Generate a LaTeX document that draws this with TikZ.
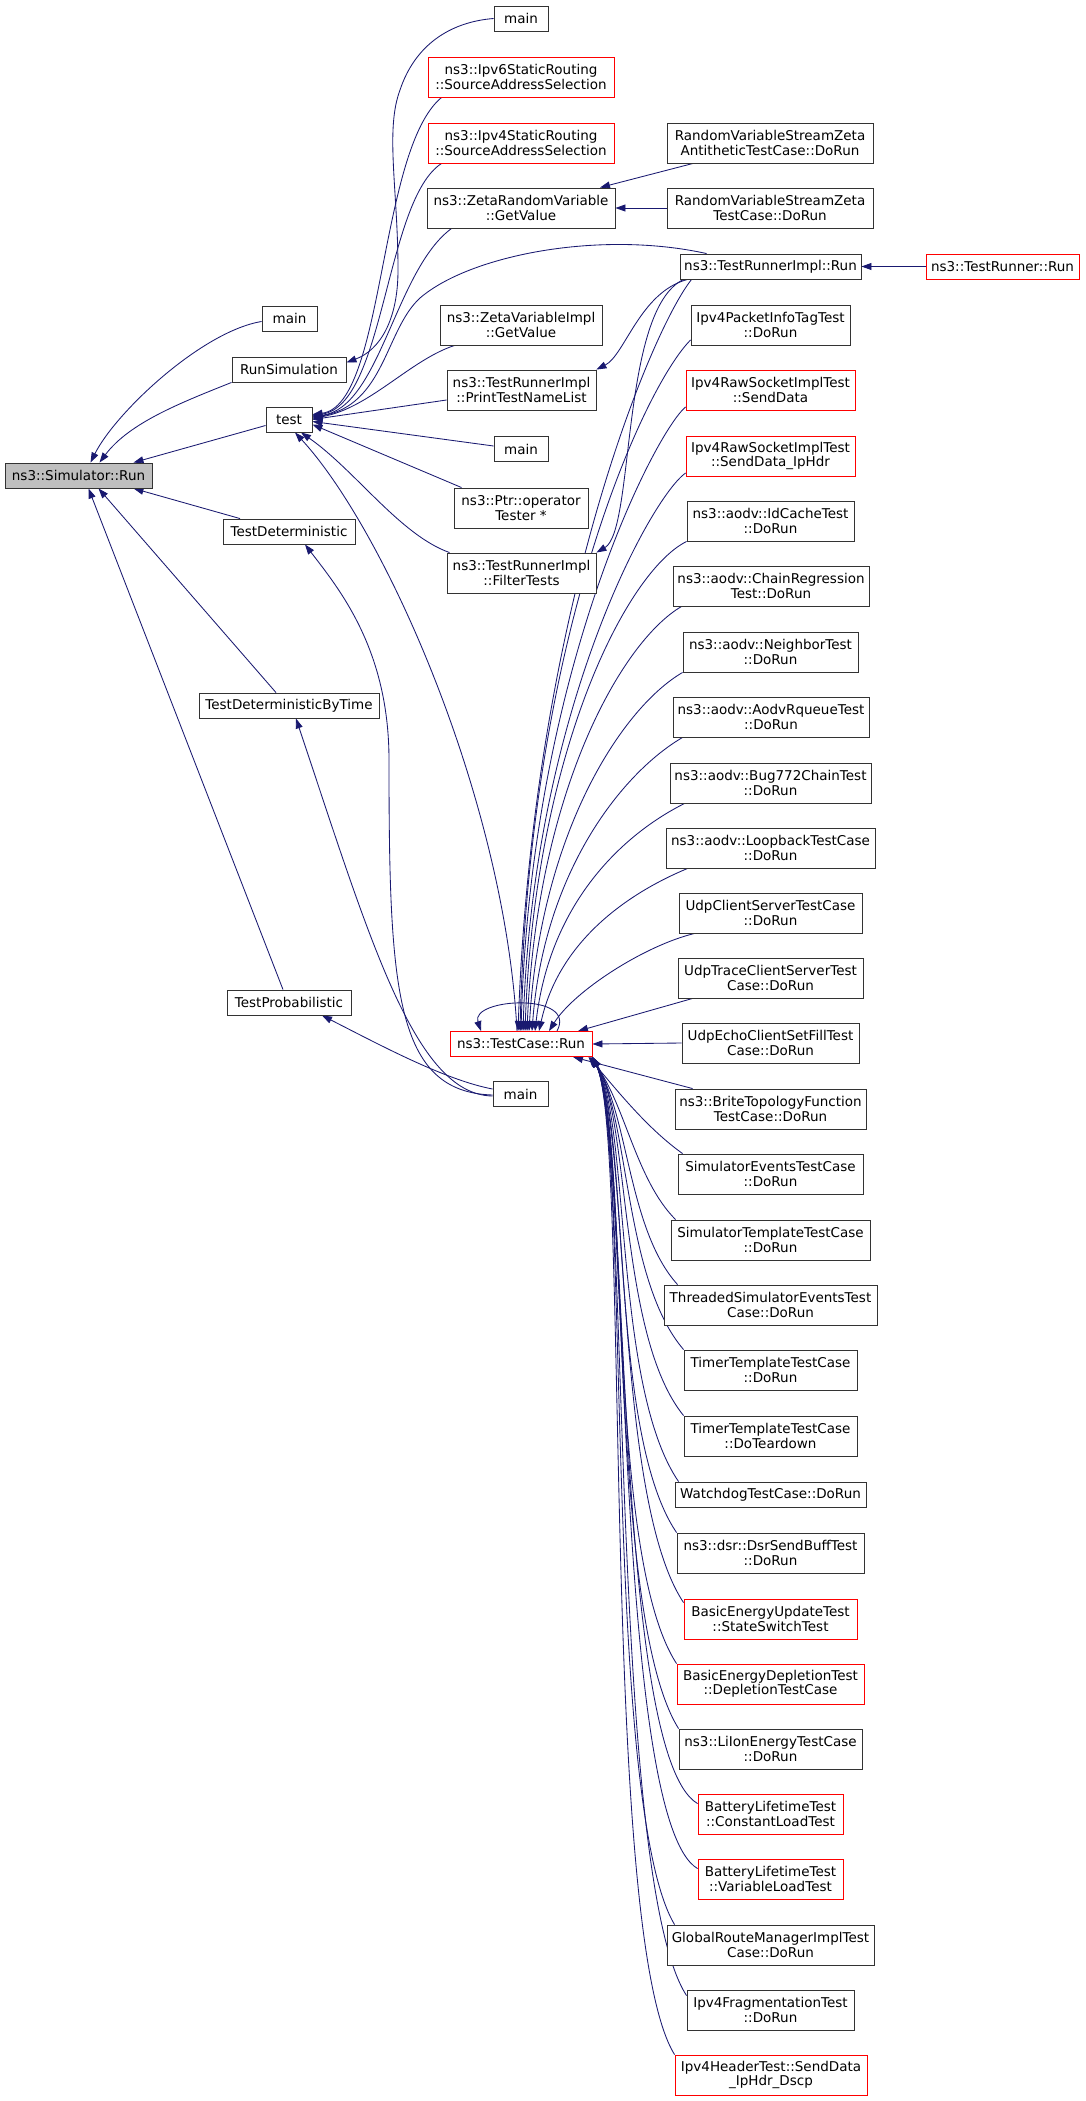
\documentclass[tikz,border=0pt]{standalone}
\usepackage{fontspec}
\newfontfamily\dxfont{DejaVu Sans}
\usetikzlibrary{arrows.meta}

\definecolor{edgeblue}{HTML}{191970}
\definecolor{rootgray}{HTML}{BFBFBF}
\definecolor{boxgray}{HTML}{333333}

\pgfdeclarelayer{bg}
\pgfsetlayers{bg,main}

\tikzset{
  fn/.style={draw=boxgray, line width=0.9pt, fill=white, inner sep=0pt, align=center,
    font=\dxfont\fontsize{13.5}{14.5}\selectfont, minimum height=25pt},
  two/.style={fn, minimum height=40pt},
  trunc/.style={draw=red},
  root/.style={fill=rootgray},
  call/.style={draw=edgeblue, line width=0.85pt, >={Triangle[length=10pt,width=7pt]}, <-},
}

\begin{document}
\begin{tikzpicture}[x=1pt,y=-1pt]
\useasboundingbox (0,0) rectangle (1085,2101);

% left part
\node[fn, root, minimum width=147pt] (sim) at (78.5,475.5) {ns3::Simulator::Run};
\node[fn, minimum width=55pt] (mainA) at (289.5,318.5) {main};
\node[fn, minimum width=114pt] (runsim) at (289,369.5) {RunSimulation};
\node[fn, minimum width=46pt] (test) at (289,419.5) {test};
\node[fn, minimum width=132pt] (testdet) at (289,531.5) {TestDeterministic};
\node[fn, minimum width=180pt] (testdbt) at (289,705.5) {TestDeterministicByTime};
\node[fn, minimum width=124pt] (testprob) at (289,1002.5) {TestProbabilistic};

% middle column
\node[fn, minimum width=54pt] (mainB) at (521,18.5) {main};
\node[two, trunc, minimum width=186pt] (ipv6) at (521,77) {ns3::Ipv6StaticRouting\\::SourceAddressSelection};
\node[two, trunc, minimum width=186pt] (ipv4) at (521,143) {ns3::Ipv4StaticRouting\\::SourceAddressSelection};
\node[two, minimum width=188pt] (zetarv) at (521,208) {ns3::ZetaRandomVariable\\::GetValue};
\node[two, minimum width=162pt] (zetaimpl) at (521,325) {ns3::ZetaVariableImpl\\::GetValue};
\node[two, minimum width=149pt] (printlist) at (521.5,390) {ns3::TestRunnerImpl\\::PrintTestNameList};
\node[fn, minimum width=54pt] (mainC) at (521,449) {main};
\node[two, minimum width=134pt] (ptr) at (521,508) {ns3::Ptr::operator\\Tester *};
\node[two, minimum width=149pt] (filter) at (521.5,573) {ns3::TestRunnerImpl\\::FilterTests};
\node[fn, trunc, minimum width=142pt] (tcrun) at (521,1044) {ns3::TestCase::Run};
\node[fn, minimum width=55pt] (mainD) at (520.5,1094) {main};

% right column
\node[two, minimum width=206pt] (zanti) at (770,143) {RandomVariableStreamZeta\\AntitheticTestCase::DoRun};
\node[two, minimum width=206pt] (zcase) at (770,208) {RandomVariableStreamZeta\\TestCase::DoRun};
\node[fn, minimum width=181pt] (trirun) at (770.5,266.5) {ns3::TestRunnerImpl::Run};
\node[fn, trunc, minimum width=153pt] (runner) at (1002.5,266.5) {ns3::TestRunner::Run};
\node[two, minimum width=159pt] (pkt) at (770.5,325) {Ipv4PacketInfoTagTest\\::DoRun};
\node[two, trunc, minimum width=169pt] (senddata) at (770.5,390) {Ipv4RawSocketImplTest\\::SendData};
\node[two, trunc, minimum width=169pt] (iphdr) at (770.5,456) {Ipv4RawSocketImplTest\\::SendData\_IpHdr};
\node[two, minimum width=167pt] (idcache) at (770.5,521) {ns3::aodv::IdCacheTest\\::DoRun};
\node[two, minimum width=196pt] (chain) at (771,586) {ns3::aodv::ChainRegression\\Test::DoRun};
\node[two, minimum width=175pt] (neighbor) at (770.5,652) {ns3::aodv::NeighborTest\\::DoRun};
\node[two, minimum width=196pt] (rqueue) at (771,717) {ns3::aodv::AodvRqueueTest\\::DoRun};
\node[two, minimum width=201pt] (bug772) at (770.5,783) {ns3::aodv::Bug772ChainTest\\::DoRun};
\node[two, minimum width=209pt] (loopback) at (770.5,848) {ns3::aodv::LoopbackTestCase\\::DoRun};
\node[two, minimum width=183pt] (udpcs) at (770.5,913) {UdpClientServerTestCase\\::DoRun};
\node[two, minimum width=185pt] (udptrace) at (770.5,978) {UdpTraceClientServerTest\\Case::DoRun};
\node[two, minimum width=177pt] (udpecho) at (770.5,1043) {UdpEchoClientSetFillTest\\Case::DoRun};
\node[two, minimum width=191pt] (brite) at (770.5,1109) {ns3::BriteTopologyFunction\\TestCase::DoRun};
\node[two, minimum width=185pt] (simev) at (770.5,1174) {SimulatorEventsTestCase\\::DoRun};
\node[two, minimum width=199pt] (simtpl) at (770.5,1240) {SimulatorTemplateTestCase\\::DoRun};
\node[two, minimum width=213pt] (threaded) at (770.5,1305) {ThreadedSimulatorEventsTest\\Case::DoRun};
\node[two, minimum width=173pt] (timerrun) at (770.5,1370) {TimerTemplateTestCase\\::DoRun};
\node[two, minimum width=173pt] (timertear) at (770.5,1436) {TimerTemplateTestCase\\::DoTeardown};
\node[fn, minimum width=191pt] (watchdog) at (770.5,1494.5) {WatchdogTestCase::DoRun};
\node[two, minimum width=187pt] (dsr) at (770.5,1553) {ns3::dsr::DsrSendBuffTest\\::DoRun};
\node[two, trunc, minimum width=173pt] (beupdate) at (770.5,1619) {BasicEnergyUpdateTest\\::StateSwitchTest};
\node[two, trunc, minimum width=187pt] (bedeplete) at (770.5,1684) {BasicEnergyDepletionTest\\::DepletionTestCase};
\node[two, minimum width=183pt] (liion) at (770.5,1749) {ns3::LiIonEnergyTestCase\\::DoRun};
\node[two, trunc, minimum width=145pt] (constload) at (770.5,1814) {BatteryLifetimeTest\\::ConstantLoadTest};
\node[two, trunc, minimum width=145pt] (varload) at (770.5,1879) {BatteryLifetimeTest\\::VariableLoadTest};
\node[two, minimum width=207pt] (globalroute) at (770.5,1945) {GlobalRouteManagerImplTest\\Case::DoRun};
\node[two, minimum width=167pt] (frag) at (770.5,2010) {Ipv4FragmentationTest\\::DoRun};
\node[two, trunc, minimum width=192pt] (header) at (771,2075) {Ipv4HeaderTest::SendData\\\_IpHdr\_Dscp};

\begin{pgfonlayer}{bg}
% callers of ns3::Simulator::Run
\draw[call] ([xshift=12pt]sim.north) .. controls +(25,-50) and +(-60,10) .. ([yshift=-3pt]mainA.west);
\draw[call] ([xshift=21pt]sim.north) .. controls +(30,-40) and +(-50,20) .. (runsim.south west);
\draw[call] ([xshift=55pt]sim.north) -- ([yshift=-6pt]test.west);
\draw[call] ([xshift=55pt]sim.south) -- ([xshift=-49pt]testdet.north);
\draw[call] ([xshift=20pt]sim.south) -- ([xshift=-13pt]testdbt.north);
\draw[call] ([xshift=10pt]sim.south) -- ([xshift=-6pt]testprob.north);

\draw[call] ([yshift=7pt]runsim.east) .. controls (380,350) and (398,320) .. (398,270)
  .. controls (398,190) and (385,130) .. (400,90) .. controls (415,45) and (450,22) .. (mainB.west);

% callers of test
\draw[call] ([yshift=5pt]test.east) .. controls (385,405) and (378,150) .. ([xshift=14pt]ipv6.south west);
\draw[call] ([yshift=4pt]test.east) .. controls (385,405) and (385,200) .. ([xshift=14pt]ipv4.south west);
\draw[call] ([yshift=3pt]test.east) .. controls (380,408) and (395,270) .. ([xshift=25pt]zetarv.south west);
\draw[call] ([yshift=2pt]test.east) .. controls (385,405) and (385,330) .. (420,298)
  .. controls (470,255) and (600,230) .. ([xshift=27pt]trirun.north west);
\draw[call] ([yshift=1pt]test.east) .. controls (370,408) and (410,360) .. ([xshift=15pt]zetaimpl.south west);
\draw[call] (test.east) -- ([yshift=-10pt]printlist.west);
\draw[call] ([yshift=-2pt]test.east) -- ([yshift=3pt]mainC.west);
\draw[call] ([yshift=-5pt]test.east) -- ([xshift=8pt]ptr.north west);
\draw[call] ([xshift=12pt]test.south) .. controls (355,470) and (400,535) .. ([xshift=3pt]filter.north west);
\draw[call] ([xshift=6pt]test.south) .. controls (385,530) and (505,800) .. ([xshift=-4pt]tcrun.north);

\draw[call] ([xshift=79pt]zetarv.north) -- ([xshift=-77pt]zanti.south);
\draw[call] (zetarv.east) -- (zcase.west);
\draw[call] (trirun.east) -- (runner.west);
\draw[call] (printlist.north east) .. controls (625,355) and (640,292) .. ([xshift=8pt]trirun.south west);
\draw[call] (filter.north east) .. controls (635,530) and (620,310) .. ([xshift=4pt]trirun.south west);

% callers of ns3::TestCase::Run
\draw[call] ([xshift=-40pt]tcrun.north) .. controls (470,998) and (578,992) .. ([xshift=36pt]tcrun.north);
\draw[call] ([xshift=-3pt]tcrun.north) .. controls +(15,-420) and +(-40,50) .. ([xshift=12pt]trirun.south west);
\draw[call] ([xshift=-1pt]tcrun.north) .. controls +(10,-400) and +(-45,45) .. ([yshift=-15pt]pkt.west);
\draw[call] (tcrun.north) .. controls +(10,-360) and +(-30,25) .. ([yshift=-17pt]senddata.west);
\draw[call] ([xshift=2pt]tcrun.north) .. controls +(10,-320) and +(-35,25) .. ([yshift=-17pt]iphdr.west);
\draw[call] ([xshift=4pt]tcrun.north) .. controls +(10,-280) and +(-60,30) .. (idcache.south west);
\draw[call] ([xshift=6pt]tcrun.north) .. controls +(10,-240) and +(-60,35) .. ([xshift=9pt]chain.south west);
\draw[call] ([xshift=8pt]tcrun.north) .. controls +(12,-200) and +(-60,35) .. (neighbor.south west);
\draw[call] ([xshift=11pt]tcrun.north) .. controls +(12,-160) and +(-60,35) .. ([xshift=10pt]rqueue.south west);
\draw[call] ([xshift=14pt]tcrun.north) .. controls +(15,-130) and +(-60,30) .. ([xshift=15pt]bug772.south west);
\draw[call] ([xshift=18pt]tcrun.north) .. controls +(20,-90) and +(-60,25) .. ([xshift=22pt]loopback.south west);
\draw[call] ([xshift=28pt]tcrun.north) .. controls +(25,-40) and +(-50,12) .. ([xshift=16pt]udpcs.south west);
\draw[call] ([xshift=57pt]tcrun.north) -- ([xshift=15pt]udptrace.south west);
\draw[call] (tcrun.east) -- (udpecho.west);
\draw[call] ([xshift=52pt]tcrun.south) -- ([xshift=18pt]brite.north west);
\draw[call] ([xshift=-4pt]tcrun.south east) .. controls +(30,35) and +(-35,-25) .. ([xshift=5pt]simev.north west);
\draw[call] ([xshift=-3pt]tcrun.south east) .. controls +(35,45) and +(-40,-40) .. ([xshift=5pt]simtpl.north west);
\draw[call] ([xshift=-2pt]tcrun.south east) .. controls +(38,55) and +(-50,-55) .. ([xshift=14pt]threaded.north west);
\draw[call] ([xshift=-1pt]tcrun.south east) .. controls +(38,60) and +(-60,-70) .. (timerrun.north west);
\draw[call] (tcrun.south east) .. controls +(38,65) and +(-65,-80) .. (timertear.north west);
\draw[call] (tcrun.south east) .. controls +(38,70) and +(-65,-95) .. ([xshift=4pt]watchdog.north west);
\draw[call] (tcrun.south east) .. controls +(38,75) and +(-68,-100) .. (dsr.north west);
\draw[call] (tcrun.south east) .. controls +(38,80) and +(-70,-105) .. ([yshift=-4pt]beupdate.north west);
\draw[call] (tcrun.south east) .. controls +(38,80) and +(-72,-110) .. (bedeplete.north west);
\draw[call] (tcrun.south east) .. controls +(38,80) and +(-72,-115) .. (liion.north west);
\draw[call] (tcrun.south east) .. controls +(38,80) and +(-85,-50) .. ([yshift=-10pt]constload.north west);
\draw[call] (tcrun.south east) .. controls +(38,80) and +(-85,-50) .. ([yshift=-10pt]varload.north west);
\draw[call] (tcrun.south east) .. controls +(38,80) and +(-72,-120) .. ([xshift=8pt]globalroute.north west);
\draw[call] (tcrun.south east) .. controls +(38,80) and +(-78,-120) .. ([yshift=-6pt]frag.north west);
\draw[call] (tcrun.south east) .. controls +(38,80) and +(-75,-120) .. (header.north west);

% callers from the lower main
\draw[call] ([xshift=16pt]testdet.south) .. controls (340,590) and (389,650) .. (389,760)
  .. controls (389,990) and (395,1092) .. ([yshift=-1pt]mainD.west);
\draw[call] ([xshift=7pt]testdbt.south) .. controls (370,940) and (415,1095) .. ([yshift=-2pt]mainD.west);
\draw[call] ([xshift=33pt]testprob.south) .. controls (380,1045) and (445,1080) .. ([yshift=5pt]mainD.west);
\end{pgfonlayer}

\end{tikzpicture}
\end{document}
